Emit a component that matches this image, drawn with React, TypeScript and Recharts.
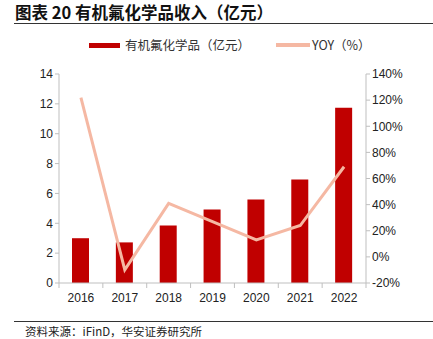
import React from "react";
import { ComposedChart, Bar, Line, XAxis, YAxis } from "recharts";

const years = ["2016", "2017", "2018", "2019", "2020", "2021", "2022"];
const revenue = [3.0, 2.72, 3.86, 4.93, 5.6, 6.94, 11.74];
const yoy = [122, -10, 41, 27, 13, 24, 69];

const leftTicks = [0, 2, 4, 6, 8, 10, 12, 14];
const rightTicks = [-20, 0, 20, 40, 60, 80, 100, 120, 140];

const BAR_COLOR = "#C00000";
const LINE_COLOR = "#F5B8A3";
const AXIS_COLOR = "#BFBFBF";
const CJK = '"Noto Sans CJK SC", "Liberation Sans", sans-serif';
const NUM = '"Liberation Sans", Arial, sans-serif';

const W = 433;
const H = 339;
const margin = { top: 74, right: 17, bottom: 36, left: 19 };
const LEFT_W = 40;
const RIGHT_W = 50;
const plotW = W - margin.left - margin.right - LEFT_W - RIGHT_W;
const band = plotW / years.length;

const data = years.map((y, i) => ({ year: y, revenue: revenue[i], yoy: yoy[i] }));

function YearTick(props: any) {
  const { x, y, payload, index } = props;
  const last = index === years.length - 1;
  return (
    <g>
      <line x1={x - band / 2} x2={x - band / 2} y1={y - 8} y2={y - 3} stroke={AXIS_COLOR} />
      {last && <line x1={x + band / 2} x2={x + band / 2} y1={y - 8} y2={y - 3} stroke={AXIS_COLOR} />}
      <text x={x} y={y + 11} textAnchor="middle" fill="#222" fontSize={12} fontFamily={NUM}>
        {payload.value}
      </text>
    </g>
  );
}

function ChartLegend() {
  return (
    <div
      style={{
        position: "absolute",
        left: 89,
        top: 37,
        display: "flex",
        alignItems: "center",
        fontFamily: CJK,
        fontSize: 12.5,
        color: "#333",
        lineHeight: "16px",
      }}
    >
      <span style={{ display: "inline-block", width: 31, height: 5, background: BAR_COLOR, marginRight: 5 }} />
      <span>有机氟化学品（亿元）</span>
      <span
        style={{ display: "inline-block", width: 34, height: 4, background: LINE_COLOR, marginLeft: 26, marginRight: 2 }}
      />
      <span>YOY（%）</span>
    </div>
  );
}

export default function App() {
  return (
    <div style={{ position: "absolute", left: 0, top: 0, width: W, height: H, background: "#fff" }}>
      <div
        style={{
          position: "absolute",
          left: 15,
          top: 2,
          fontFamily: CJK,
          fontWeight: 700,
          fontSize: 16.5,
          color: "#111",
          lineHeight: "20px",
        }}
      >
        图表 20 有机氟化学品收入（亿元）
      </div>
      <div style={{ position: "absolute", left: 14, right: 0, top: 23, height: 1, background: "#333" }} />
      <ChartLegend />
      <ComposedChart width={W} height={H} data={data} margin={margin}>
        <XAxis
          dataKey="year"
          tick={<YearTick />}
          tickLine={false}
          axisLine={{ stroke: AXIS_COLOR }}
          height={20}
          interval={0}
        />
        <YAxis
          yAxisId="left"
          domain={[0, 14]}
          ticks={leftTicks}
          width={LEFT_W}
          tick={{ fill: "#222", fontSize: 12, fontFamily: NUM }}
          tickLine={{ stroke: AXIS_COLOR }}
          tickSize={4}
          axisLine={{ stroke: AXIS_COLOR }}
        />
        <YAxis
          yAxisId="right"
          orientation="right"
          domain={[-20, 140]}
          ticks={rightTicks}
          width={RIGHT_W}
          tickFormatter={(v) => `${v}%`}
          tick={{ fill: "#222", fontSize: 12, fontFamily: NUM, textAnchor: "start" }}
          tickLine={{ stroke: AXIS_COLOR }}
          tickSize={4}
          axisLine={{ stroke: AXIS_COLOR }}
        />
        <Bar yAxisId="left" dataKey="revenue" fill={BAR_COLOR} barSize={17} isAnimationActive={false} />
        <Line
          yAxisId="right"
          dataKey="yoy"
          stroke={LINE_COLOR}
          strokeWidth={3}
          dot={false}
          type="linear"
          isAnimationActive={false}
        />
      </ComposedChart>
      <div style={{ position: "absolute", left: 14, right: 0, top: 321, height: 1, background: "#333" }} />
      <div
        style={{
          position: "absolute",
          left: 25,
          top: 323,
          fontFamily: CJK,
          fontSize: 11.5,
          color: "#222",
          lineHeight: "16px",
        }}
      >
        资料来源：iFinD，华安证券研究所
      </div>
    </div>
  );
}
